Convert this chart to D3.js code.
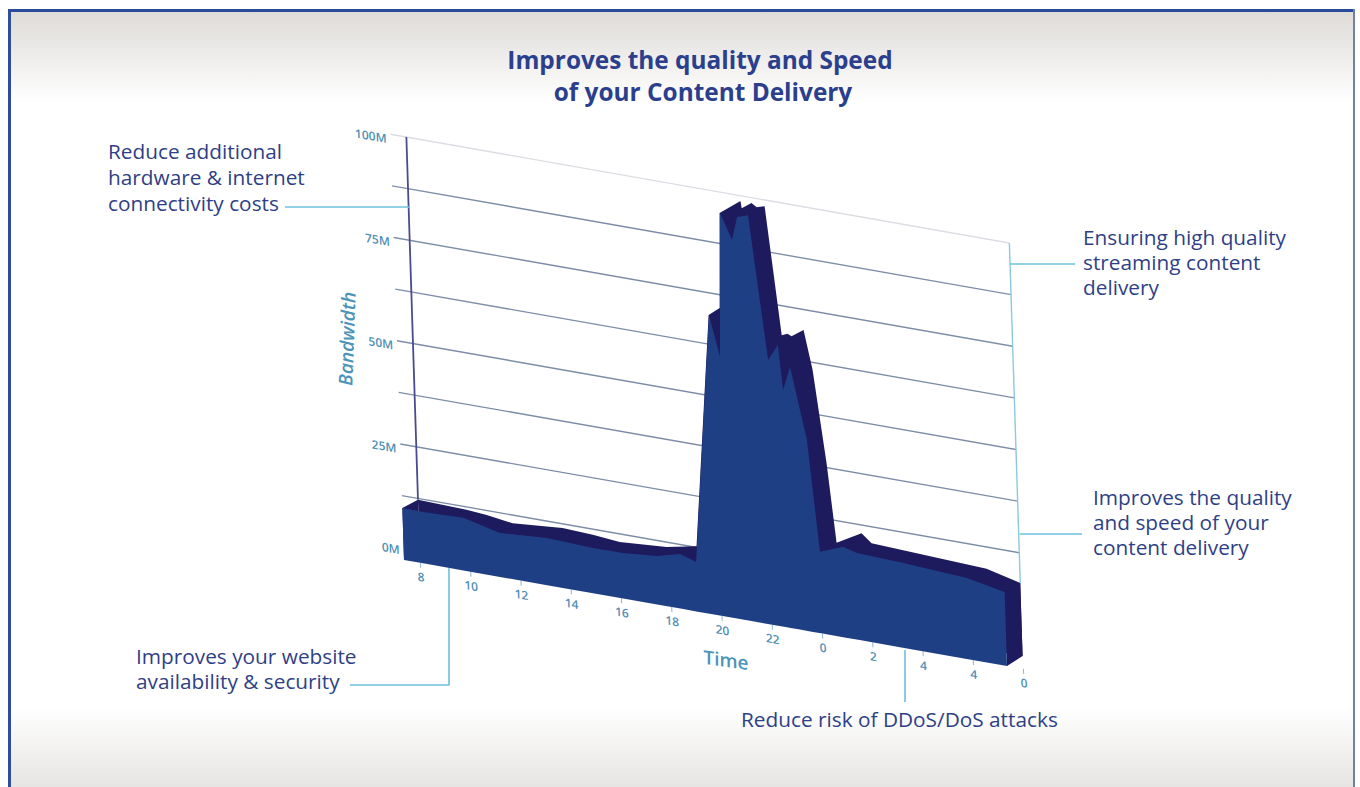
<!DOCTYPE html>
<html>
<head>
<meta charset="utf-8">
<script src="https://cdn.jsdelivr.net/npm/d3@7"></script>
<style>
  body { margin: 0; background: #fff; }
  svg { display: block; }
  text { font-family: "Open Sans", "Noto Sans", sans-serif; }
  .callout { fill: #2f3f86; font-size: 20.8px; font-weight: 500; }
  .title { fill: #2b3f8c; font-size: 24.4px; font-weight: 700; text-anchor: middle; }
  .axis-name { fill: #4c93b8; font-weight: 600; text-anchor: middle; }
  .leader { fill: none; stroke: #6cc0dc; stroke-width: 1.6; }
</style>
</head>
<body>
<div id="chart"></div>
<script>
// Data (hour of day runs on past midnight, bandwidth in Mbit)
const frontHours = [8, 8.82, 10.42, 11.88, 13.75, 15.58, 16.78, 18.13, 19.06, 19.69, 20.52, 20.91, 21.09, 21.54, 21.77, 22.21, 22.83, 23.24, 23.39, 23.7, 24.28, 24.66, 25.59, 26.14, 27.85, 30.51, 32];
const frontValues = [12.6, 12.5, 12.8, 10.7, 11.5, 11, 11.1, 11.8, 13.3, 12, 72.7, 63, 98, 92, 97.8, 98.7, 64.3, 68.4, 57.6, 63.5, 46.5, 19.8, 22, 21.1, 20.7, 19.7, 17.9];

const rearHours = [8, 9.93, 10.73, 11.76, 13.75, 14.95, 16.02, 17.89, 19.09, 19.87, 20.32, 20.44, 21.29, 21.33, 21.73, 21.93, 22.25, 22.77, 23, 23.16, 23.65, 23.96, 24.4, 24.7, 25.71, 26.1, 30.67, 32];
const rearValues = [12.2, 11.8, 11.4, 10.5, 11.5, 11.1, 10.5, 11.3, 12.8, 69.6, 71.8, 94.9, 98.7, 97, 98.7, 97.9, 98.5, 67.8, 68.4, 68, 70, 60.7, 38.6, 19.6, 23, 21, 19.7, 17.7];

const timeTicks = [8, 10, 12, 14, 16, 18, 20, 22, 24, 26, 28, 30, 32];
const timeLabels = ['8', '10', '12', '14', '16', '18', '20', '22', '0', '2', '4', '4', '0'];
const gridValues = [12.5, 25, 37.5, 50, 62.5, 75, 87.5, 100];
const bandwidthTicks = [0, 25, 50, 75, 100];

const titleLines = ['Improves the quality and Speed', 'of your Content Delivery'];
const callouts = [
  { x: 108, y: 159, lines: ['Reduce additional', 'hardware & internet', 'connectivity costs'], step: 26 },
  { x: 1083, y: 245, lines: ['Ensuring high quality', 'streaming content', 'delivery'], step: 25 },
  { x: 1093, y: 505, lines: ['Improves the quality', 'and speed of your', 'content delivery'], step: 25 },
  { x: 136, y: 664, lines: ['Improves your website', 'availability & security'], step: 25 },
  { x: 741, y: 727, lines: ['Reduce risk of DDoS/DoS attacks'], step: 25 },
];
const leaders = [
  [[285, 207], [410, 207]],
  [[1010, 264], [1075, 264]],
  [[1020, 534], [1082, 534]],
  [[350, 685], [449, 685], [449, 568]],
  [[905, 650], [905, 702]],
];

const dimensions = { width: 1360, height: 787, ctrWidth: 603, ctrHeight: 413 };
// how far the rear face sits behind the front one, in chart units
const depth = { x: 16, y: -12.8 };

const svg = d3.select('#chart').append('svg')
  .attr('width', dimensions.width)
  .attr('height', dimensions.height);

// Panel background
const defs = svg.append('defs');
const addFade = (id, top, bottom) => {
  const g = defs.append('linearGradient').attr('id', id).attr('x1', 0).attr('x2', 0).attr('y1', 0).attr('y2', 1);
  g.append('stop').attr('offset', 0).attr('stop-color', top);
  g.append('stop').attr('offset', 1).attr('stop-color', bottom);
};
addFade('fadeTop', '#dedbd8', '#ffffff');
addFade('fadeBottom', '#ffffff', '#e7e5e3');

svg.append('rect').attr('x', 10).attr('y', 12).attr('width', 1343).attr('height', 90).attr('fill', 'url(#fadeTop)');
svg.append('rect').attr('x', 10).attr('y', 708).attr('width', 1343).attr('height', 79).attr('fill', 'url(#fadeBottom)');
svg.append('rect').attr('x', 8).attr('y', 9).attr('width', 1346).attr('height', 3).attr('fill', '#2a4a9a');
svg.append('rect').attr('x', 8).attr('y', 9).attr('width', 3).attr('height', 778).attr('fill', '#2f4d9c');
svg.append('rect').attr('x', 1353).attr('y', 9).attr('width', 2).attr('height', 778).attr('fill', '#6f7fb0');

// Everything in here is a flat chart sheared into the tilted view
const ctr = svg.append('g')
  .attr('transform', 'matrix(1, 0.1758, 0.032, 1, 404, 560)');

// Scales
const xScale = d3.scaleLinear().domain([8, 32]).range([0, dimensions.ctrWidth]);
const yScale = d3.scaleLinear().domain([0, 100]).range([0, -dimensions.ctrHeight]);

// Rear wall
const wall = ctr.append('g').attr('transform', `translate(${depth.x}, ${depth.y})`);

wall.selectAll('.grid')
  .data(gridValues)
  .join('line')
  .attr('class', 'grid')
  .attr('x1', -16)
  .attr('x2', dimensions.ctrWidth)
  .attr('y1', d => yScale(d))
  .attr('y2', d => yScale(d))
  .attr('stroke', d => d === 100 ? '#dcdde3' : '#7d8ca6')
  .attr('stroke-width', 1.4);

const yAxis = d3.axisLeft(yScale)
  .tickValues(bandwidthTicks)
  .tickFormat(d => d + 'M')
  .tickSize(0)
  .tickPadding(20);

wall.append('g')
  .call(yAxis)
  .call(g => g.select('.domain').remove())
  .call(g => g.selectAll('text')
    .attr('dy', d => d === 0 ? '0.6em' : '0.75em')
    .attr('fill', '#4f8fb4')
    .style('font-size', '12px')
    .style('font-weight', 600));

wall.append('line')
  .attr('y1', yScale(100))
  .attr('y2', yScale(12.2))
  .attr('stroke', '#4a4a90')
  .attr('stroke-width', 1.8);

wall.append('line')
  .attr('x1', dimensions.ctrWidth)
  .attr('x2', dimensions.ctrWidth)
  .attr('y1', yScale(100))
  .attr('y2', yScale(17.7))
  .attr('stroke', '#8cc8de')
  .attr('stroke-width', 1.4);

// Time axis
const xAxis = d3.axisBottom(xScale)
  .tickValues(timeTicks)
  .tickFormat((d, i) => timeLabels[i])
  .tickSize(5)
  .tickPadding(5);

ctr.append('g')
  .attr('transform', `translate(${depth.x}, 0)`)
  .call(xAxis)
  .call(g => g.select('.domain').remove())
  .call(g => g.selectAll('line').attr('stroke', '#8fb6cc'))
  .call(g => g.selectAll('text')
    .attr('fill', '#4f8fb4')
    .style('font-size', '12px')
    .style('font-weight', 600));

// Solid block
const area = d3.area()
  .x(d => xScale(d[0]))
  .y0(yScale(0))
  .y1(d => yScale(d[1]));

const rearData = d3.zip(rearHours, rearValues);
const frontData = d3.zip(frontHours, frontValues);

ctr.append('path')
  .datum(rearData)
  .attr('d', area)
  .attr('transform', `translate(${depth.x}, ${depth.y})`)
  .attr('fill', '#1e1a5e');

// end caps joining the two faces
const capLine = d3.line();
const cap = (hour, frontValue, rearValue) => [
  [xScale(hour), yScale(frontValue)],
  [xScale(hour) + depth.x, yScale(rearValue) + depth.y],
  [xScale(hour) + depth.x, yScale(0) + depth.y],
  [xScale(hour), yScale(0)],
];

ctr.selectAll('.cap')
  .data([
    cap(frontHours[0], frontValues[0], rearValues[0]),
    cap(frontHours[frontHours.length - 1], frontValues[frontValues.length - 1], rearValues[rearValues.length - 1]),
  ])
  .join('path')
  .attr('class', 'cap')
  .attr('d', d => capLine(d) + 'Z')
  .attr('fill', '#1e1a5e');

ctr.append('path')
  .datum(frontData)
  .attr('d', area)
  .attr('fill', '#1f3f85');

// Titles and callouts
svg.selectAll('.title')
  .data(titleLines)
  .join('text')
  .attr('class', 'title')
  .attr('x', (d, i) => i === 0 ? 700 : 703)
  .attr('y', (d, i) => 69 + i * 32)
  .text(d => d);

svg.selectAll('.leader')
  .data(leaders)
  .join('path')
  .attr('class', 'leader')
  .attr('d', d3.line());

const notes = svg.selectAll('.note')
  .data(callouts)
  .join('text')
  .attr('class', 'callout note');

notes.selectAll('tspan')
  .data(d => d.lines.map((line, i) => ({ line, x: d.x, y: d.y + i * d.step })))
  .join('tspan')
  .attr('x', d => d.x)
  .attr('y', d => d.y)
  .text(d => d.line);

svg.append('text')
  .attr('class', 'axis-name')
  .attr('transform', 'translate(354, 339) rotate(-88)')
  .style('font-size', '19px')
  .style('font-style', 'italic')
  .text('Bandwidth');

svg.append('text')
  .attr('class', 'axis-name')
  .attr('transform', 'matrix(1, 0.14, 0, 1, 726, 667)')
  .style('font-size', '19px')
  .text('Time');
</script>
</body>
</html>
